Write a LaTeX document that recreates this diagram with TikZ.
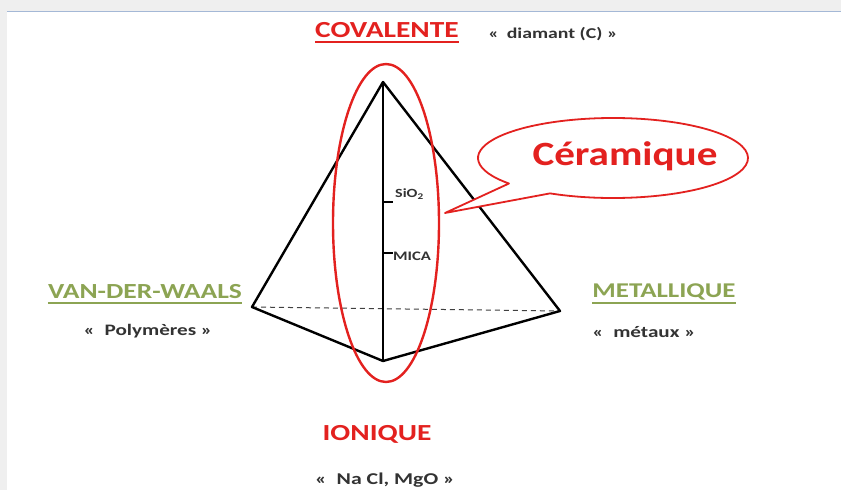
\documentclass[tikz,border=0pt]{standalone}
\usepackage{fontspec}
\usepackage{graphicx}
\setmainfont{Carlito}
\usetikzlibrary{calc}
\definecolor{redc}{HTML}{E3211F}
\definecolor{greenc}{HTML}{8CA453}
\definecolor{txtc}{HTML}{333333}
\definecolor{bluel}{HTML}{A4B8D6}
\definecolor{greyb}{HTML}{EFEFEF}
\newcommand{\sx}[1]{\scalebox{1.28}[1]{#1}}
\newcommand{\sxx}[1]{\scalebox{1.32}[1]{#1}}
\begin{document}
\begin{tikzpicture}[x=1pt,y=-1pt,
  edge/.style={line width=2.4pt,black,line join=round},
  title/.style={font=\bfseries\fontsize{23}{26}\selectfont,inner sep=0pt},
  sub/.style={font=\bfseries\fontsize{16}{18}\selectfont,text=txtc,inner sep=0pt},
  uline/.style={line width=1.3pt}]
\useasboundingbox (0,0) rectangle (841,490);
\fill[white] (0,0) rectangle (841,490);
\fill[greyb] (0,0) rectangle (841,11);
\fill[greyb] (0,11) rectangle (7,490);
\draw[bluel,line width=1.5pt] (7,11.5) -- (841,11.5);
% vertices
\coordinate (A) at (383,82);
\coordinate (L) at (252,307);
\coordinate (R) at (560,311);
\coordinate (B) at (383,361);
\coordinate (t1) at (383,202);
\coordinate (t1e) at (393,202);
\coordinate (t2) at (383,253);
\coordinate (t2e) at (393,253);
\draw[dashed,dash pattern=on 5pt off 4pt,line width=1pt,black!75] (L) -- (R);
\draw[edge] (L) -- (A) -- (R) -- (B) -- cycle;
\draw[edge] (A) -- (B);
\draw[line width=1.4pt] (t1) -- (t1e);
\draw[line width=1.4pt] (t2) -- (t2e);
\node[font=\bfseries\fontsize{12.5}{14}\selectfont,text=txtc,anchor=west,inner sep=0pt] (sio) at (395,194) {\sx{SiO\textsubscript{2}}};
\node[font=\bfseries\fontsize{13}{14}\selectfont,text=txtc,anchor=west,inner sep=0pt] (mica) at (393,256) {\sx{MICA}};
% red ellipse
\draw[redc,line width=2.4pt] (386,223) ellipse [x radius=53,y radius=159];
% callout
\coordinate (tip) at (445,213);
\draw[redc,line width=1.8pt,fill=white,line join=round]
  ($(613,158)+(117.8:135 and 40)$) coordinate (p2)
  arc[start angle=117.8,end angle=-219.6,x radius=135,y radius=40]
  coordinate (p1) -- (tip) -- cycle;
\node[font=\bfseries\fontsize{34}{36}\selectfont,text=redc,inner sep=0pt] (cer) at (625,156) {\scalebox{1.21}[1]{Céramique}};
% labels
\node[title,text=redc] (cov) at (387,30) {\sx{COVALENTE}};
\draw[redc,uline] ([yshift=-12pt]cov.west) -- ([yshift=-12pt]cov.east);
\node[sub,font=\bfseries\fontsize{15}{17}\selectfont] (cov2) at (553,34) {\sxx{«\ \,diamant (C) »}};
\node[title,text=greenc,font=\bfseries\fontsize{21.5}{24}\selectfont] (vdw) at (145,292) {\sx{VAN-DER-WAALS}};
\draw[greenc,uline] ([yshift=-11pt]vdw.west) -- ([yshift=-11pt]vdw.east);
\node[sub] (vdw2) at (148,331) {\sxx{«\ \ Polymères »}};
\node[title,text=greenc,font=\bfseries\fontsize{21}{24}\selectfont] (met) at (664,292) {\sx{METALLIQUE}};
\draw[greenc,uline] ([yshift=-11pt]met.west) -- ([yshift=-11pt]met.east);
\node[sub] (met2) at (644,332) {\sxx{«\ \ métaux\ »}};
\node[title,text=redc] (ion) at (377,434) {\sx{IONIQUE}};
\node[sub,font=\bfseries\fontsize{16.5}{18}\selectfont] (ion2) at (385,480) {\sxx{«\ \ Na Cl, MgO »}};
\end{tikzpicture}
\end{document}
